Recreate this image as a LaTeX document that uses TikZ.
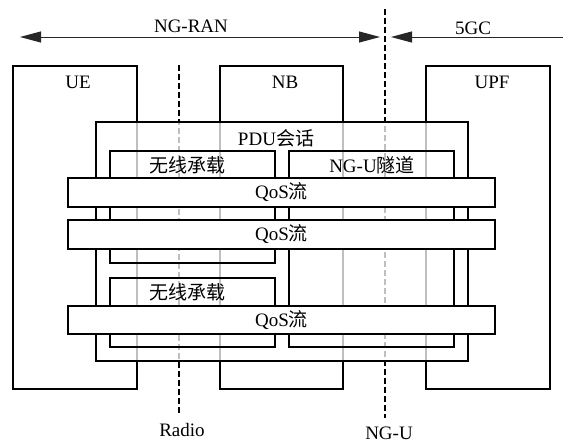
\documentclass[tikz,border=0pt]{standalone}
\usepackage{fontspec}
\setmainfont{Liberation Serif}
\newfontfamily\cjk{Noto Sans CJK SC}
\usetikzlibrary{arrows.meta}
\tikzset{
  nodebox/.style={draw=black, line width=1.3pt, minimum width=#1, inner sep=0pt, outer sep=0pt, anchor=north west},
  txt/.style={inner sep=0pt, font=\fontsize{19}{22}\selectfont},
  divider/.style={draw=black, line width=1.5pt, dash pattern=on 6pt off 3pt},
  span/.style={draw=black!85, line width=1pt, -{Triangle[length=21pt,width=11pt]}},
  pdubox/.style={draw=black, line width=1.3pt, fill=white, fill opacity=0.75, inner sep=0pt, outer sep=0pt, anchor=north west},
  qosbox/.style={draw=black, line width=1.3pt, fill=white, inner sep=0pt, outer sep=0pt, anchor=north west}
}
\begin{document}
\begin{tikzpicture}[x=1pt,y=-1pt]
\useasboundingbox (0,0) rectangle (563,445);
% network elements
\node[nodebox=124pt, minimum height=323pt] (ue) at (13,66) {};
\node[nodebox=123pt, minimum height=323pt] (nb) at (220,66) {};
\node[nodebox=124pt, minimum height=323pt] (upf) at (426,66) {};
\node[txt] (uel) at (78,82) {UE};
\node[txt] (nbl) at (285,82) {NB};
\node[txt] (upfl) at (492,82) {UPF};
% dashed interface lines
\coordinate (radiotop) at (179,65);
\coordinate (radiobot) at (179,415);
\coordinate (ngutop) at (385,9);
\coordinate (ngubot) at (385,418);
\draw[divider] (radiotop) -- (radiobot);
\draw[divider] (ngutop) -- (ngubot);
\node[txt] (radiol) at (182,430) {Radio};
\node[txt] (ngul) at (389,433) {NG-U};
% top arrows
\coordinate (ranl) at (20,37);
\coordinate (ranr) at (380,37);
\coordinate (ranm) at (200,37);
\coordinate (cnr) at (563,37);
\coordinate (cnl) at (391,37);
\draw[span] (ranm) -- (ranl);
\draw[span] (ranm) -- (ranr);
\draw[span] (cnr) -- (cnl);
\node[txt] (ranlab) at (191,26) {NG-RAN};
\node[txt] (cnlab) at (473,28) {5GC};
% PDU session
\node[pdubox, minimum width=372pt, minimum height=239pt] (pdu) at (96,122) {};
\node[txt] (pdul) at (276,138) {PDU{\cjk 会话}};
% bearers and tunnel
\node[nodebox=165pt, minimum height=112pt] (rb1) at (110,151) {};
\node[nodebox=165pt, minimum height=196pt] (tun) at (289,151) {};
\node[nodebox=165pt, minimum height=69pt] (rb2) at (110,278) {};
\node[txt] (rb1l) at (187,165) {\cjk 无线承载};
\node[txt] (tunl) at (372,165) {NG-U{\cjk 隧道}};
\node[txt] (rb2l) at (187,292) {\cjk 无线承载};
% QoS flows
\node[qosbox, minimum width=427pt, minimum height=29pt] (q1) at (68,178) {};
\node[qosbox, minimum width=427pt, minimum height=29pt] (q2) at (68,220) {};
\node[qosbox, minimum width=427pt, minimum height=28pt] (q3) at (68,306) {};
\node[txt] (q1l) at (q1.center) {QoS{\cjk 流}};
\node[txt] (q2l) at (q2.center) {QoS{\cjk 流}};
\node[txt] (q3l) at (q3.center) {QoS{\cjk 流}};
\end{tikzpicture}
\end{document}
